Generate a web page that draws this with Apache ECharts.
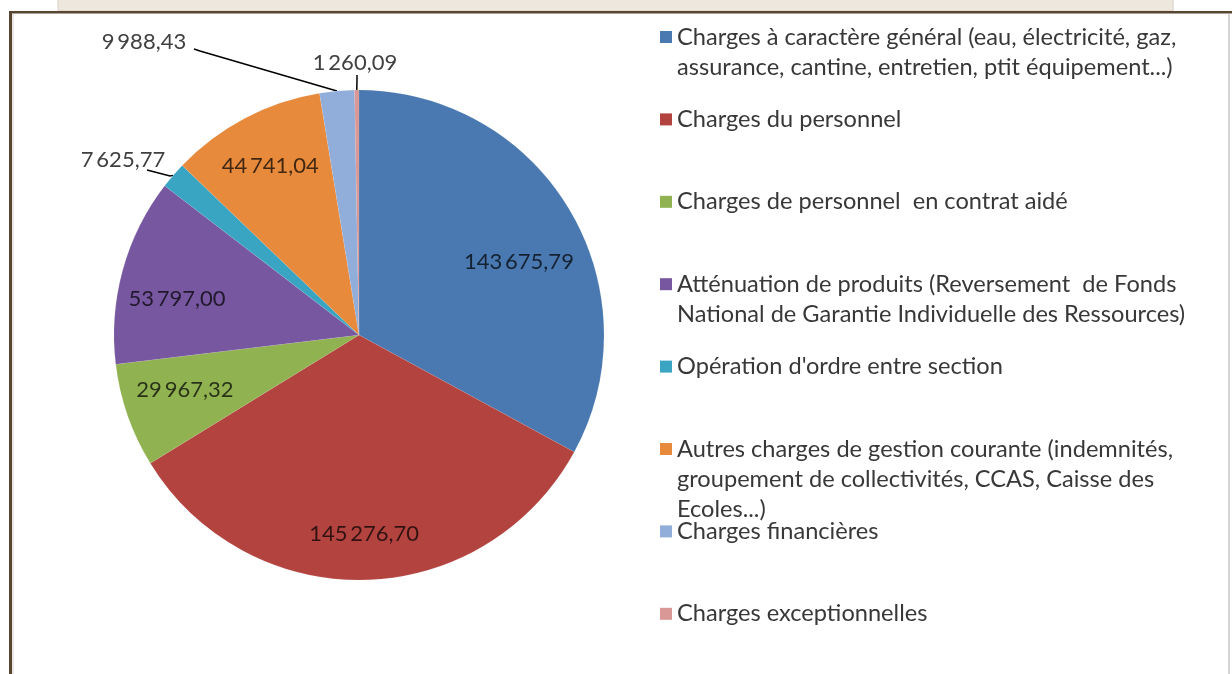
<!DOCTYPE html>
<html lang="fr">
<head>
<meta charset="UTF-8">
<title>Charges de fonctionnement</title>
<script src="https://cdn.jsdelivr.net/npm/echarts@6/dist/echarts.min.js"></script>
<style>
  html, body { margin: 0; padding: 0; background: #fff; }
  #chart { width: 1232px; height: 674px; }
</style>
</head>
<body>
<div id="chart"></div>
<script>
  // données
  var categories = [
    'Charges à caractère général (eau, électricité, gaz,\nassurance, cantine, entretien, ptit équipement...)',
    'Charges du personnel',
    'Charges de personnel  en contrat aidé',
    'Atténuation de produits (Reversement  de Fonds\nNational de Garantie Individuelle des Ressources)',
    'Opération d\'ordre entre section',
    'Autres charges de gestion courante (indemnités,\ngroupement de collectivités, CCAS, Caisse des\nEcoles...)',
    'Charges financières',
    'Charges exceptionnelles'
  ];
  var values = [143675.79, 145276.70, 29967.32, 53797.00, 7625.77, 44741.04, 9988.43, 1260.09];
  var colors = ['#4A78B0', '#B2433F', '#91B251', '#7757A0', '#3AA5C3', '#E88A3C', '#91ADDA', '#D99795'];

  var CX = 359, CY = 335, R = 245;
  var FONT = 'Lato';

  // étiquettes placées hors du camembert (petites parts)
  var outside = {
    4: { x: 123, y: 160, line: [[170, 176], [147, 170]] },
    6: { x: 144, y: 42, line: [[200, 51], [194, 49]] },
    7: { x: 355, y: 63, line: [[357, 80], [357, 75]] }
  };
  // petit décalage des étiquettes intérieures (comme Excel)
  var nudge = { 0: [-4, 24], 1: [0, 8], 2: [6, -8], 3: [2, 14] };

  function fmt(v) {
    var parts = v.toFixed(2).split('.');
    return parts[0].replace(/\B(?=(\d{3})+(?!\d))/g, '\u2009') + ',' + parts[1];
  }

  var seriesData = categories.map(function (name, i) {
    var d = { name: name, value: values[i], itemStyle: { color: colors[i] } };
    if (outside[i]) {
      d.label = { position: 'outside', color: '#404040' };
      d.labelLine = { show: true };
    }
    return d;
  });

  var LH = 30;
  var legends = categories.map(function (name, i) {
    var n = name.split('\n').length;
    var iconY = 37 + i * 82.4;
    return {
      data: [name],
      orient: 'vertical',
      left: 660,
      top: iconY - (2 * n - 1) * LH / 2,
      padding: 0,
      icon: 'rect',
      itemWidth: 12,
      itemHeight: 12,
      selectedMode: false,
      itemStyle: { borderWidth: 0 },
      // lignes vides devant pour aligner la 1re ligne sur le carré
      formatter: function (nm) {
        var pad = '';
        for (var k = 1; k < n; k++) pad += '\n';
        return pad + nm;
      },
      textStyle: {
        fontFamily: FONT,
        fontSize: 23.6,
        color: '#383838',
        lineHeight: LH
      }
    };
  });

  var myChart = echarts.init(document.getElementById('chart'));

  var option = {
    backgroundColor: '#fff',
    animation: false,
    legend: legends,
    graphic: [
      { type: 'rect', shape: { x: 58, y: -2, width: 1115, height: 13 },
        style: { fill: '#EEE7DE', stroke: '#D6CEC2', lineWidth: 1 } },
      { type: 'rect', shape: { x: 9, y: 11, width: 1223, height: 2.5 }, style: { fill: '#5A4630' } },
      { type: 'rect', shape: { x: 9, y: 11, width: 3, height: 663 }, style: { fill: '#5A4630' } },
      { type: 'rect', shape: { x: 12, y: 14, width: 2, height: 660 }, style: { fill: '#E8E8E8' } },
      { type: 'rect', shape: { x: 1228, y: 14, width: 2, height: 660 }, style: { fill: '#D4D4D4' } }
    ],
    series: [{
      type: 'pie',
      center: [CX, CY],
      radius: R,
      startAngle: 90,
      clockwise: true,
      avoidLabelOverlap: false,
      itemStyle: { borderColor: 'rgba(255,255,255,0.15)', borderWidth: 0.5 },
      label: {
        show: true,
        position: 'inside',
        fontFamily: FONT,
        fontSize: 22,
        color: 'rgba(0,0,0,0.72)',
        formatter: function (p) { return fmt(p.value); }
      },
      labelLine: { show: false, lineStyle: { color: '#000', width: 1.5 } },
      labelLayout: function (p) {
        var o = outside[p.dataIndex];
        if (o) {
          var pts = p.labelLinePoints;
          var start = pts && pts[0] ? pts[0] : [CX, CY - R];
          return {
            x: o.x, y: o.y, align: 'center', verticalAlign: 'middle',
            labelLinePoints: [start, o.line[0], o.line[1]]
          };
        }
        var r = p.labelRect;
        var mx = r.x + r.width / 2, my = r.y + r.height / 2;
        var nd = nudge[p.dataIndex] || [0, 0];
        return { x: CX + (mx - CX) * 1.52 + nd[0], y: CY + (my - CY) * 1.52 + nd[1] };
      },
      data: seriesData
    }]
  };

  myChart.setOption(option);
</script>
</body>
</html>
